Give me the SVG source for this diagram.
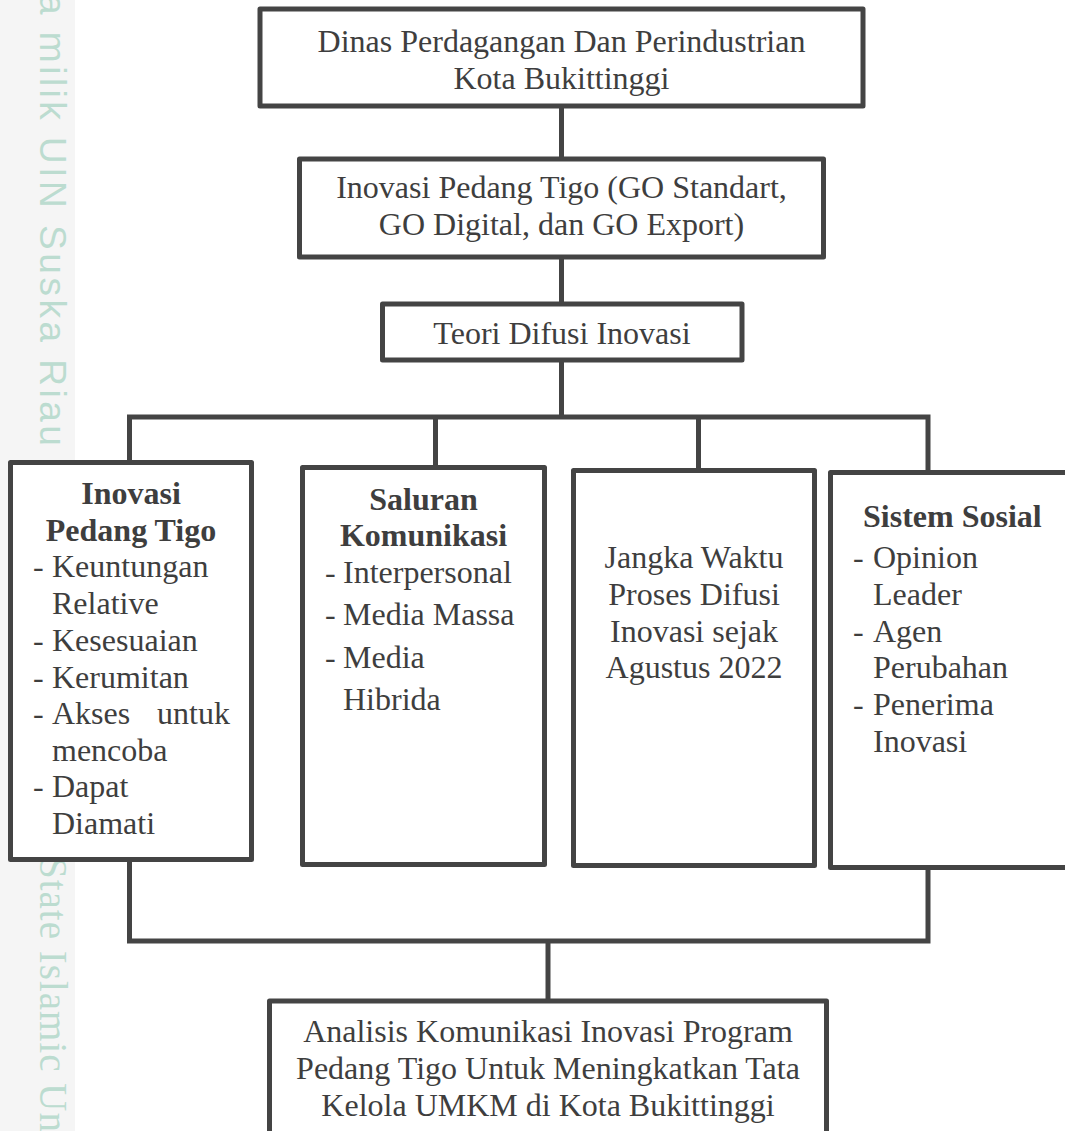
<svg xmlns="http://www.w3.org/2000/svg" width="1065" height="1131" viewBox="0 0 1065 1131">
<defs>
<style>
.box{fill:#ffffff;stroke:#444444;stroke-width:5;stroke-linejoin:round}
.con{fill:none;stroke:#444444;stroke-width:5;stroke-linejoin:miter}
.t{font-family:"Liberation Serif","Times New Roman",serif;font-size:32px;fill:#3e3e3e}
.c{text-anchor:middle}
.b{font-weight:bold}
.wm{fill:#bcdcd0}
.wms{font-family:"Liberation Sans",Arial,sans-serif;font-size:37px;letter-spacing:3.5px}
.wmr{font-family:"Liberation Serif","Times New Roman",serif;font-size:39px;letter-spacing:1px}
</style>
</defs>
<rect width="1065" height="1131" fill="#ffffff"/>
<g id="watermark">
<rect x="0" y="0" width="75" height="1131" fill="#f5f5f5"/>
<text class="wm wms" transform="translate(40,-6) rotate(90)">a milik UIN Suska Riau</text>
<text class="wm wmr" transform="translate(40,857) rotate(90)">State Islamic Un</text>
</g>
<g id="connectors">
<path class="con" d="M561.5,106 V159"/>
<path class="con" d="M561.5,257 V304"/>
<path class="con" d="M561.5,360 V417"/>
<path class="con" d="M129.5,462 V417 H928 V472"/>
<path class="con" d="M435.5,417 V467"/>
<path class="con" d="M698.5,417 V470"/>
<path class="con" d="M129.5,860 V941 H928 V868"/>
<path class="con" d="M548,941 V1001"/>
</g>
<g id="node-dinas">
<rect class="box" x="260" y="9" width="603" height="97"/>
<text class="t c" x="561.5" y="52">Dinas Perdagangan Dan Perindustrian</text>
<text class="t c" x="561.5" y="89">Kota Bukittinggi</text>
</g>
<g id="node-inovasi-program">
<rect class="box" x="299.5" y="159" width="524" height="98"/>
<text class="t c" x="561.5" y="198">Inovasi Pedang Tigo (GO Standart,</text>
<text class="t c" x="561.5" y="235">GO Digital, dan GO Export)</text>
</g>
<g id="node-teori">
<rect class="box" x="382.5" y="304" width="359.5" height="56"/>
<text class="t c" x="562" y="344">Teori Difusi Inovasi</text>
</g>
<g id="node-inovasi">
<rect class="box" x="10.5" y="462.5" width="241" height="397"/>
<text class="t c b" x="131" y="504">Inovasi</text>
<text class="t c b" x="131" y="541">Pedang Tigo</text>
<text class="t" x="33" y="577">-</text><text class="t" x="52" y="577">Keuntungan</text>
<text class="t" x="52" y="614">Relative</text>
<text class="t" x="33" y="651">-</text><text class="t" x="52" y="651">Kesesuaian</text>
<text class="t" x="33" y="688">-</text><text class="t" x="52" y="688">Kerumitan</text>
<text class="t" x="33" y="724">-</text><text class="t" x="52" y="724">Akses</text><text class="t" x="230" y="724" text-anchor="end">untuk</text>
<text class="t" x="52" y="761">mencoba</text>
<text class="t" x="33" y="797">-</text><text class="t" x="52" y="797">Dapat</text>
<text class="t" x="52" y="834">Diamati</text>
</g>
<g id="node-saluran">
<rect class="box" x="302.5" y="467.5" width="242" height="397"/>
<text class="t c b" x="423.5" y="510">Saluran</text>
<text class="t c b" x="423.5" y="546">Komunikasi</text>
<text class="t" x="325" y="583">-</text><text class="t" x="343" y="583">Interpersonal</text>
<text class="t" x="325" y="625">-</text><text class="t" x="343" y="625">Media Massa</text>
<text class="t" x="325" y="668">-</text><text class="t" x="343" y="668">Media</text>
<text class="t" x="343" y="710">Hibrida</text>
</g>
<g id="node-jangka">
<rect class="box" x="573.5" y="470.5" width="241" height="395"/>
<text class="t c" x="694" y="568">Jangka Waktu</text>
<text class="t c" x="694" y="605">Proses Difusi</text>
<text class="t c" x="694" y="642">Inovasi sejak</text>
<text class="t c" x="694" y="678">Agustus 2022</text>
</g>
<g id="node-sistem">
<rect class="box" x="830.5" y="472.5" width="245" height="395"/>
<text class="t b" x="863" y="527">Sistem Sosial</text>
<text class="t" x="853" y="568">-</text><text class="t" x="873" y="568">Opinion</text>
<text class="t" x="873" y="605">Leader</text>
<text class="t" x="853" y="642">-</text><text class="t" x="873" y="642">Agen</text>
<text class="t" x="873" y="678">Perubahan</text>
<text class="t" x="853" y="715">-</text><text class="t" x="873" y="715">Penerima</text>
<text class="t" x="873" y="752">Inovasi</text>
</g>
<g id="node-analisis">
<rect class="box" x="269.5" y="1001" width="557" height="150"/>
<text class="t c" x="548" y="1042">Analisis Komunikasi Inovasi Program</text>
<text class="t c" x="548" y="1079">Pedang Tigo Untuk Meningkatkan Tata</text>
<text class="t c" x="548" y="1116">Kelola UMKM di Kota Bukittinggi</text>
</g>
</svg>
